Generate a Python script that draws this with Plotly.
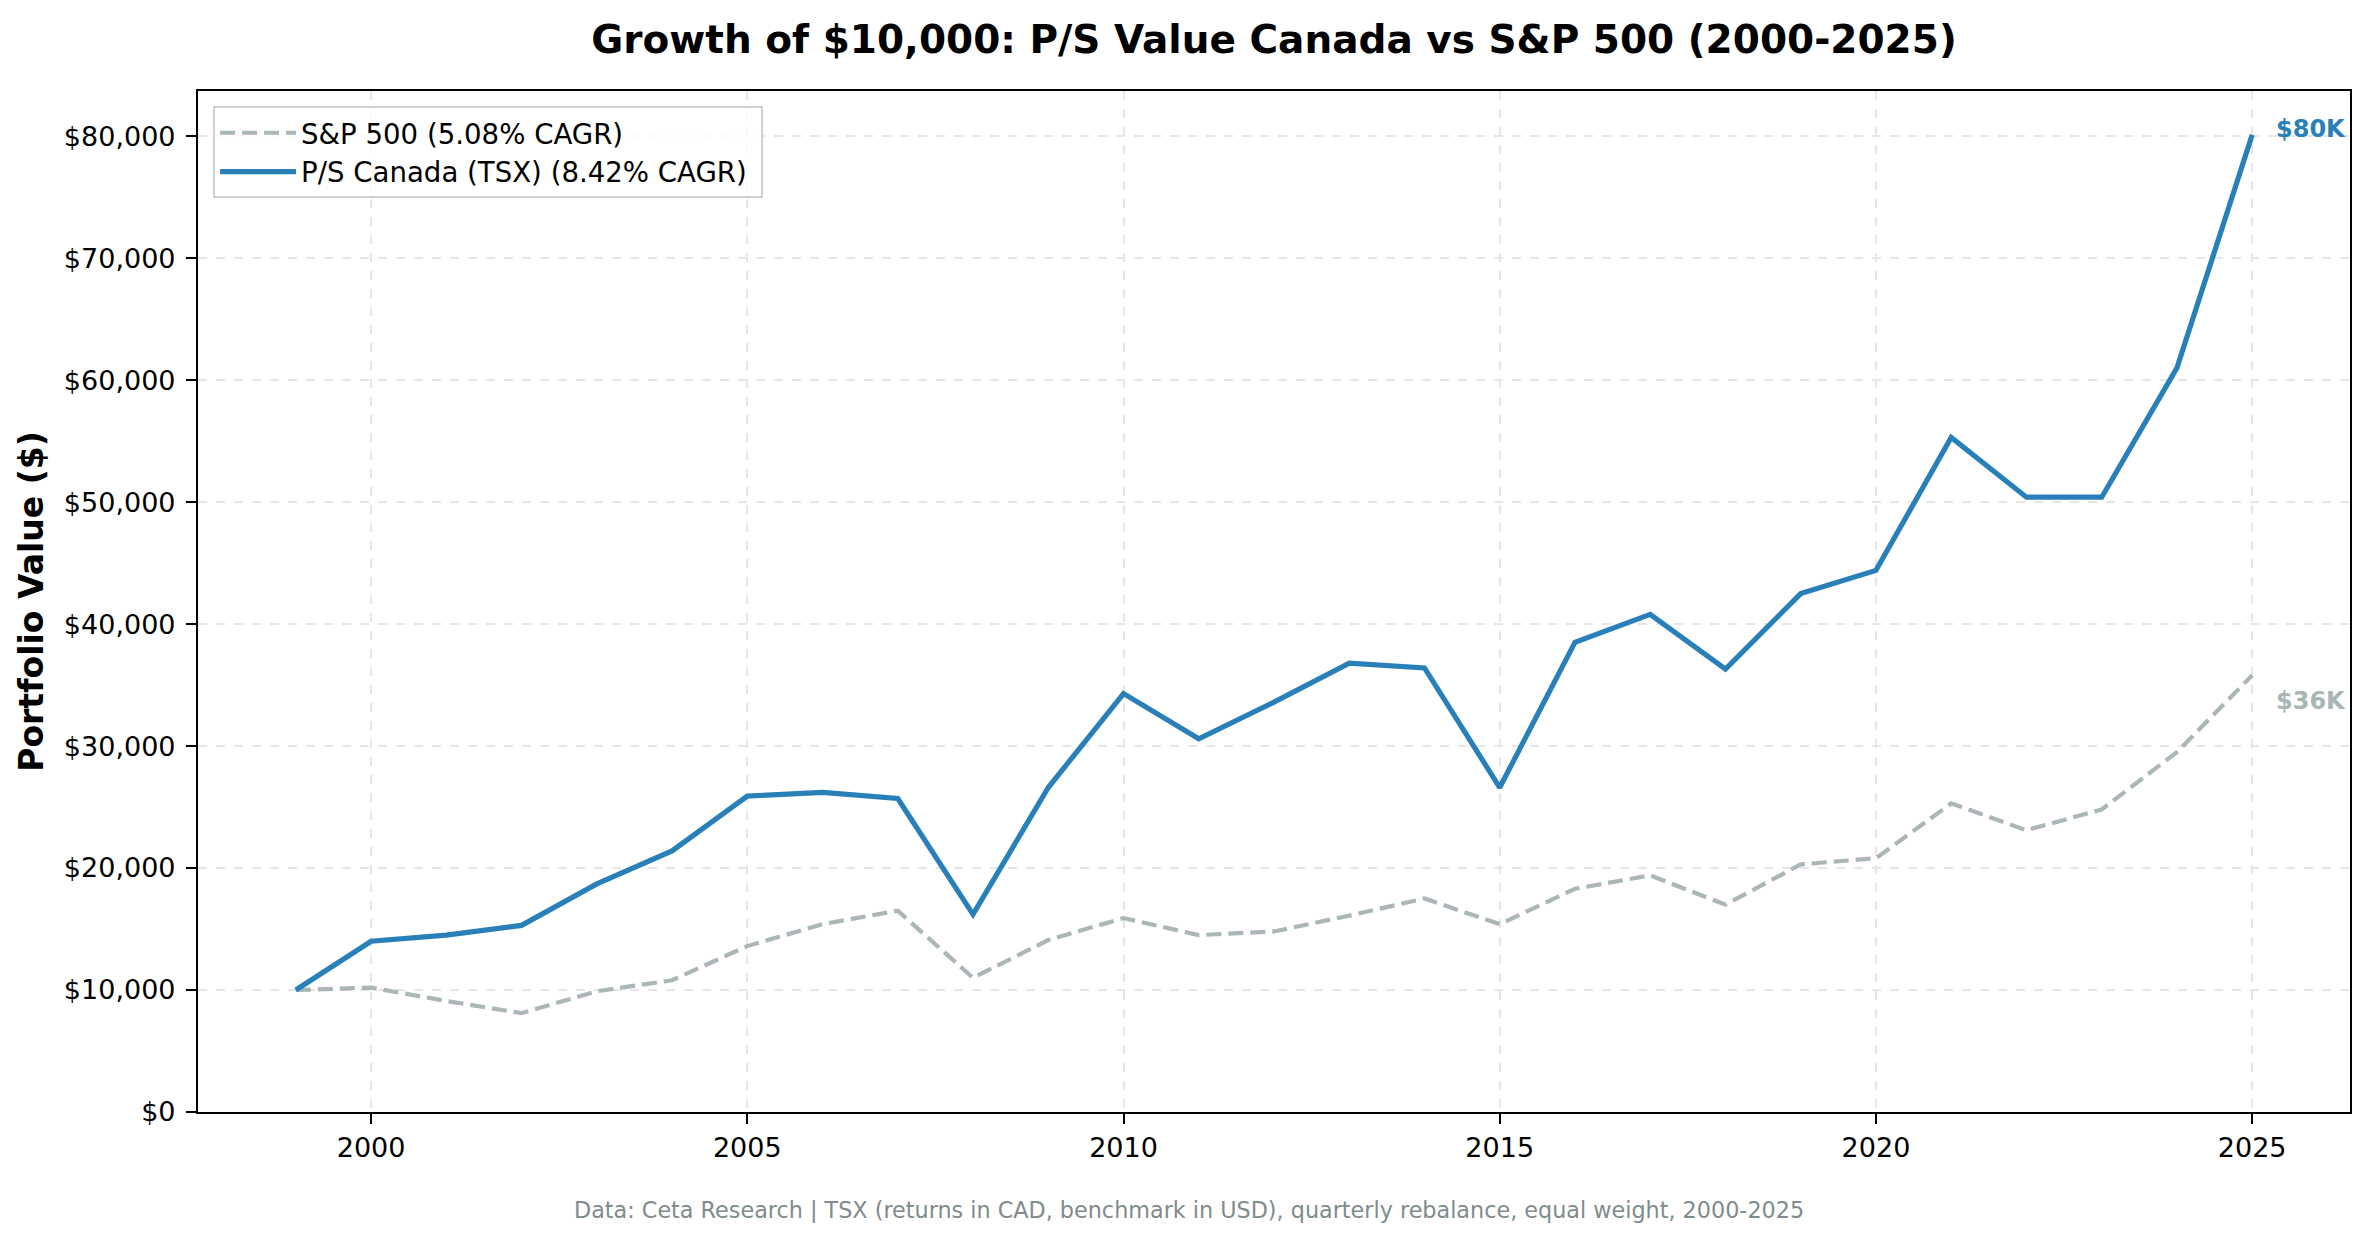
import plotly.graph_objects as go

years = list(range(1999, 2026))
ps_canada = [10000, 14000, 14500, 15300, 18700, 21400, 25900, 26200, 25700, 16200,
             26600, 34300, 30600, 33600, 36800, 36400, 26600, 38500, 40800, 36300,
             42500, 44400, 55300, 50400, 50400, 61000, 80100]
sp500 = [10000, 10200, 9100, 8100, 9900, 10800, 13600, 15400, 16500, 11000,
         14100, 15900, 14500, 14800, 16100, 17500, 15400, 18300, 19400, 17000,
         20300, 20800, 25300, 23100, 24800, 29500, 35800]
ps_name = "P/S Canada (TSX) (8.42% CAGR)"
sp_name = "S&P 500 (5.08% CAGR)"
x_ticks = [2000, 2005, 2010, 2015, 2020, 2025]
y_ticks = list(range(0, 80001, 10000))
y_tick_labels = ["${:,}".format(v) for v in y_ticks]
end_labels = ["$80K", "$36K"]

BLUE = "#2980b9"
GRAY = "#95a5a6"
FONT = "DejaVu Sans"

fig = go.Figure()
fig.add_trace(go.Scatter(x=years, y=sp500, mode="lines", name=sp_name + "\u00a0",
                         line=dict(color=GRAY, width=4.2, dash="15px,7px"), opacity=0.8))
fig.add_trace(go.Scatter(x=years, y=ps_canada, mode="lines", name=ps_name + "\u00a0",
                         line=dict(color=BLUE, width=5.2)))

fig.add_annotation(x=years[-1], y=ps_canada[-1], xref="x", yref="y", text="<b>%s</b>" % end_labels[0],
                   showarrow=False, xanchor="left", yanchor="middle", xshift=22, yshift=6,
                   font=dict(family=FONT, size=24, color=BLUE))
fig.add_annotation(x=years[-1], y=sp500[-1], xref="x", yref="y", text="<b>%s</b>" % end_labels[1],
                   showarrow=False, xanchor="left", yanchor="middle", xshift=22, yshift=-26,
                   font=dict(family=FONT, size=24, color="#a9b5b6"))

fig.add_annotation(x=0.4607, y=-0.096, xref="paper", yref="paper",
                   text="Data: Ceta Research | TSX (returns in CAD, benchmark in USD), quarterly rebalance, equal weight, 2000-2025",
                   showarrow=False, xanchor="center", yanchor="middle",
                   font=dict(family=FONT, size=22.3, color="#7f8c8d"))

axis_common = dict(showline=True, linecolor="black", linewidth=2.2, mirror=True,
                   ticks="outside", ticklen=10, tickwidth=2.2, tickcolor="black",
                   showgrid=True, gridcolor="#e6e6e6", gridwidth=1.6, griddash="dash",
                   zeroline=False, tickfont=dict(family=FONT, size=27, color="black"))

fig.update_layout(
    width=2370, height=1239,
    margin=dict(l=198, r=20, t=91, b=127),
    paper_bgcolor="white", plot_bgcolor="white",
    title=dict(text="<b>Growth of $10,000: P/S Value Canada vs S&P 500 (2000-2025)</b>",
               x=0.5, xref="paper", xanchor="center", y=1 - 39 / 1239, yref="container", yanchor="middle",
               font=dict(family=FONT, size=39, color="black")),
    xaxis=dict(range=[1997.7, 2026.3], tickvals=x_ticks, ticklabelstandoff=0, **axis_common),
    yaxis=dict(range=[0, 83700], tickvals=y_ticks, ticktext=y_tick_labels, ticklabelstandoff=5,
               title=dict(text="<b>Portfolio Value ($)</b>", standoff=10,
                          font=dict(family=FONT, size=33, color="black")),
               **axis_common),
    legend=dict(x=0.007, y=0.985, xanchor="left", yanchor="top",
                bgcolor="rgba(255,255,255,0.8)", bordercolor="#d0d0d0", borderwidth=2,
                font=dict(family=FONT, size=27.6, color="black"),
                itemwidth=76, tracegroupgap=0),
    showlegend=True,
)

fig.write_html("out.html")
